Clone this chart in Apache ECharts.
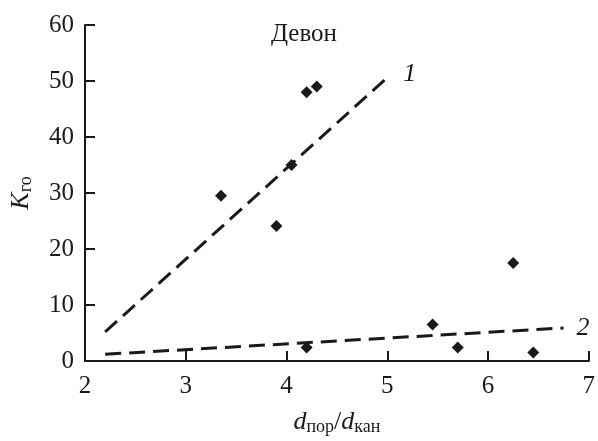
<!DOCTYPE html>
<html>
<head>
<meta charset="utf-8">
<script src="https://cdn.jsdelivr.net/npm/echarts@6/dist/echarts.min.js"></script>
<style>
  html, body { margin: 0; padding: 0; background: #fff; }
  #chart { width: 598px; height: 441px; }
</style>
</head>
<body>
<div id="chart"></div>
<script>
// точки (d_пор/d_кан, K_го)
const points = [
  [3.35, 29.5], [3.9, 24.1], [4.05, 35], [4.2, 48], [4.3, 49],
  [4.2, 2.4], [5.45, 6.5], [5.7, 2.4], [6.25, 17.5], [6.45, 1.5]
];
// линии тренда 1 и 2
const trend1 = [[2.2, 5.2], [5.0, 50.6]];
const trend2 = [[2.2, 1.2], [6.75, 5.9]];
const xTicks = [2, 3, 4, 5, 6, 7];
const yTicks = [0, 10, 20, 30, 40, 50, 60];

const serif = 'Liberation Serif';
const ink = '#1a1a1a';

const chart = echarts.init(document.getElementById('chart'));

const nameRich = {
  i: { fontFamily: serif, fontStyle: 'italic', fontSize: 26, color: ink, lineHeight: 28 },
  s: { fontFamily: serif, fontSize: 18, color: ink, lineHeight: 18, verticalAlign: 'bottom' },
  n: { fontFamily: serif, fontSize: 26, color: ink, lineHeight: 28 }
};

const option = {
  animation: false,
  title: {
    text: 'Девон',
    left: 266,
    top: 17,
    textStyle: { fontFamily: serif, fontSize: 25, fontWeight: 'normal', color: ink }
  },
  grid: { left: 81, right: 6, top: 25, bottom: 73 },
  xAxis: {
    type: 'value',
    min: xTicks[0],
    max: xTicks[xTicks.length - 1],
    interval: 1,
    name: '{i|d}{s|пор}{n|/}{i|d}{s|кан}',
    nameLocation: 'middle',
    nameGap: 47,
    nameTextStyle: { rich: nameRich },
    axisLine: { lineStyle: { color: ink, width: 2 } },
    axisTick: { inside: true, length: 10, lineStyle: { color: ink, width: 2 } },
    axisLabel: { fontFamily: serif, fontSize: 25, color: ink, margin: 13 },
    splitLine: { show: false }
  },
  yAxis: {
    type: 'value',
    min: yTicks[0],
    max: yTicks[yTicks.length - 1],
    interval: 10,
    name: '{i|K}{s|го}',
    nameLocation: 'middle',
    nameGap: 50,
    nameRotate: 90,
    nameTextStyle: { rich: nameRich },
    axisLine: { lineStyle: { color: ink, width: 2 } },
    axisTick: { inside: true, length: 10, lineStyle: { color: ink, width: 2 } },
    axisLabel: { fontFamily: serif, fontSize: 25, color: ink, margin: 11 },
    splitLine: { show: false }
  },
  series: [
    {
      type: 'line',
      data: trend1,
      symbol: 'none',
      lineStyle: { color: ink, width: 3, type: [16, 8] },
      endLabel: {
        show: true,
        formatter: '1',
        fontFamily: serif,
        fontStyle: 'italic',
        fontSize: 26,
        color: ink,
        offset: [8, -3]
      }
    },
    {
      type: 'line',
      data: trend2,
      symbol: 'none',
      lineStyle: { color: ink, width: 3, type: [16, 8] },
      endLabel: {
        show: true,
        formatter: '2',
        fontFamily: serif,
        fontStyle: 'italic',
        fontSize: 26,
        color: ink,
        offset: [5, 0]
      }
    },
    {
      type: 'scatter',
      data: points,
      symbol: 'diamond',
      symbolSize: 12,
      itemStyle: { color: ink, opacity: 1 }
    }
  ]
};

chart.setOption(option);
</script>
</body>
</html>
